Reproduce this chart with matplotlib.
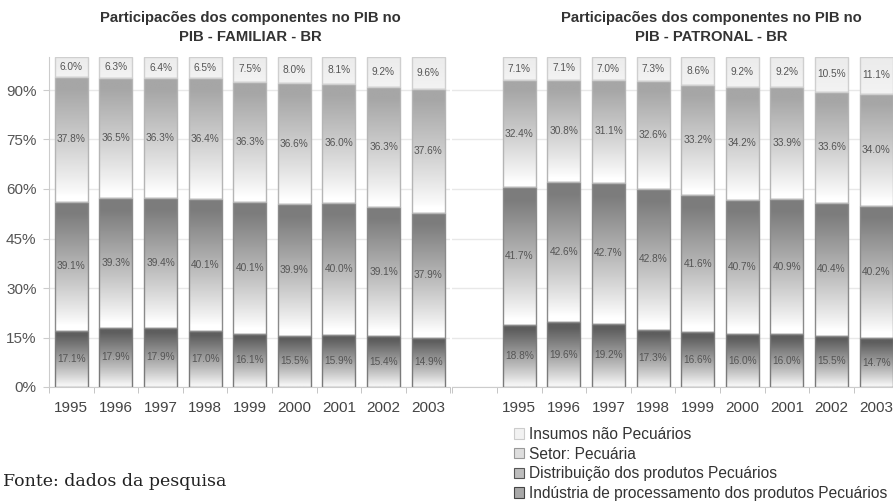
import numpy as np
import matplotlib
matplotlib.use("Agg")
from matplotlib import pyplot as plt
from matplotlib.patches import Patch
from matplotlib.colors import to_rgb

# ------------------------ data ------------------------
years = ["1995", "1996", "1997", "1998", "1999", "2000", "2001", "2002", "2003"]

# PIB familiar (bottom -> top)
fam_ind = [17.1, 17.9, 17.9, 17.0, 16.1, 15.5, 15.9, 15.4, 14.9]
fam_dist = [39.1, 39.3, 39.4, 40.1, 40.1, 39.9, 40.0, 39.1, 37.9]
fam_set = [37.8, 36.5, 36.3, 36.4, 36.3, 36.6, 36.0, 36.3, 37.6]
fam_ins = [6.0, 6.3, 6.4, 6.5, 7.5, 8.0, 8.1, 9.2, 9.6]

# PIB patronal (bottom -> top)
pat_ind = [18.8, 19.6, 19.2, 17.3, 16.6, 16.0, 16.0, 15.5, 14.7]
pat_dist = [41.7, 42.6, 42.7, 42.8, 41.6, 40.7, 40.9, 40.4, 40.2]
pat_set = [32.4, 30.8, 31.1, 32.6, 33.2, 34.2, 33.9, 33.6, 34.0]
pat_ins = [7.1, 7.1, 7.0, 7.3, 8.6, 9.2, 9.2, 10.5, 11.1]

series_names = [
    "Indústria de processamento dos produtos Pecuários",
    "Distribuição dos produtos Pecuários",
    "Setor: Pecuária",
    "Insumos não Pecuários",
]
top_colors = ["#5e5e5e", "#7c7c7c", "#a6a6a6", "#ececec"]
bot_colors = ["#f4f4f4", "#ffffff", "#ffffff", "#f3f3f3"]
edge_colors = ["#7a7a7a", "#8a8a8a", "#b5b5b5", "#cfcfcf"]
# legend swatches
leg_face = ["#a8a8a8", "#bdbdbd", "#dedede", "#f2f2f2"]
leg_edge = ["#444444", "#555555", "#999999", "#cccccc"]

plt.rcParams["font.family"] = ["Liberation Sans", "DejaVu Sans"]

fig = plt.figure(figsize=(8.93, 5.01), dpi=100)
slot = 44.6
ax1 = fig.add_axes([49 / 893, 114 / 501, 9 * slot / 893, 330 / 501])
ax2 = fig.add_axes([452.4 / 893, 114 / 501, 10 * slot / 893, 330 / 501])

W = 0.74


def gradient(c_top, c_bot, n=100):
    t = np.linspace(0, 1, n)  # 0 bottom, 1 top
    t = np.clip(t * 1.15 - 0.05, 0, 1) ** 0.9
    a = np.array(to_rgb(c_bot))
    b = np.array(to_rgb(c_top))
    g = a[None, :] + (b - a)[None, :] * t[:, None]
    return g[:, None, :]


def draw_panel(ax, segs, xmin):
    x = np.arange(len(years))
    bottom = np.zeros(len(years))
    for k, vals in enumerate(segs):
        vals = np.array(vals)
        bars = ax.bar(x, vals, W, bottom=bottom, color="none",
                      edgecolor=edge_colors[k], linewidth=1.0, zorder=4)
        grad = gradient(top_colors[k], bot_colors[k])
        for rect in bars:
            x0, y0 = rect.get_x(), rect.get_y()
            im = ax.imshow(grad, extent=[x0, x0 + W, y0, y0 + rect.get_height()],
                           origin="lower", aspect="auto", zorder=3,
                           interpolation="bilinear")
            im.set_clip_path(rect)
        for xi, v, b in zip(x, vals, bottom):
            ax.text(xi, b + v / 2, f"{v:.1f}%", ha="center", va="center",
                    fontsize=7.3, color="#555555", zorder=5)
        bottom = bottom + vals
    ax.set_xlim(xmin, 8.5)
    ax.set_ylim(0, 100)
    ax.set_xticks(x)
    ax.set_xticklabels(years, fontsize=11, color="#444444")
    ax.set_xticks(np.arange(xmin, 8.51, 1.0), minor=True)
    ax.tick_params(axis="x", which="major", length=0, pad=10)
    ax.tick_params(axis="x", which="minor", length=4, color="#bbbbbb")
    ax.set_yticks(np.arange(0, 91, 15))
    ax.yaxis.grid(True, color="#e8e8e8", linewidth=1, zorder=0)
    ax.set_axisbelow(True)
    for s in ["top", "right"]:
        ax.spines[s].set_visible(False)
    ax.spines["bottom"].set_color("#cccccc")
    ax.spines["left"].set_color("#cccccc")


draw_panel(ax1, [fam_ind, fam_dist, fam_set, fam_ins], -0.5)
draw_panel(ax2, [pat_ind, pat_dist, pat_set, pat_ins], -1.5)

ax1.set_yticklabels([f"{v}%" for v in range(0, 91, 15)], fontsize=11, color="#555555")
ax1.tick_params(axis="y", length=4, color="#cccccc", pad=5)
ax2.spines["left"].set_visible(False)
ax2.tick_params(axis="y", length=0, labelleft=False)

title_kw = dict(ha="center", va="center", fontsize=10.7, fontweight="bold", color="#333333")
fig.text(250 / 893, 1 - 18 / 501, "Participacões dos componentes no PIB no", **title_kw)
fig.text(250 / 893, 1 - 37 / 501, "PIB - FAMILIAR - BR", **title_kw)
fig.text(711 / 893, 1 - 18 / 501, "Participacões dos componentes no PIB no", **title_kw)
fig.text(711 / 893, 1 - 37 / 501, "PIB - PATRONAL - BR", **title_kw)

handles = [Patch(facecolor=leg_face[k], edgecolor=leg_edge[k], linewidth=0.8,
                 label=series_names[k])
           for k in range(3, -1, -1)]
fig.legend(handles=handles, loc="upper left", bbox_to_anchor=(514 / 893, 1 - 427 / 501),
           frameon=False, fontsize=11.2, handlelength=0.65, handleheight=0.65,
           handletextpad=0.3, labelspacing=0.3, borderpad=0, borderaxespad=0,
           labelcolor="#333333")

fig.text(3 / 893, 1 - 482 / 501, "Fonte: dados da pesquisa", ha="left", va="center",
         fontsize=12.5, family="DejaVu Serif", color="#222222")

fig.savefig("out.png", dpi=100)
